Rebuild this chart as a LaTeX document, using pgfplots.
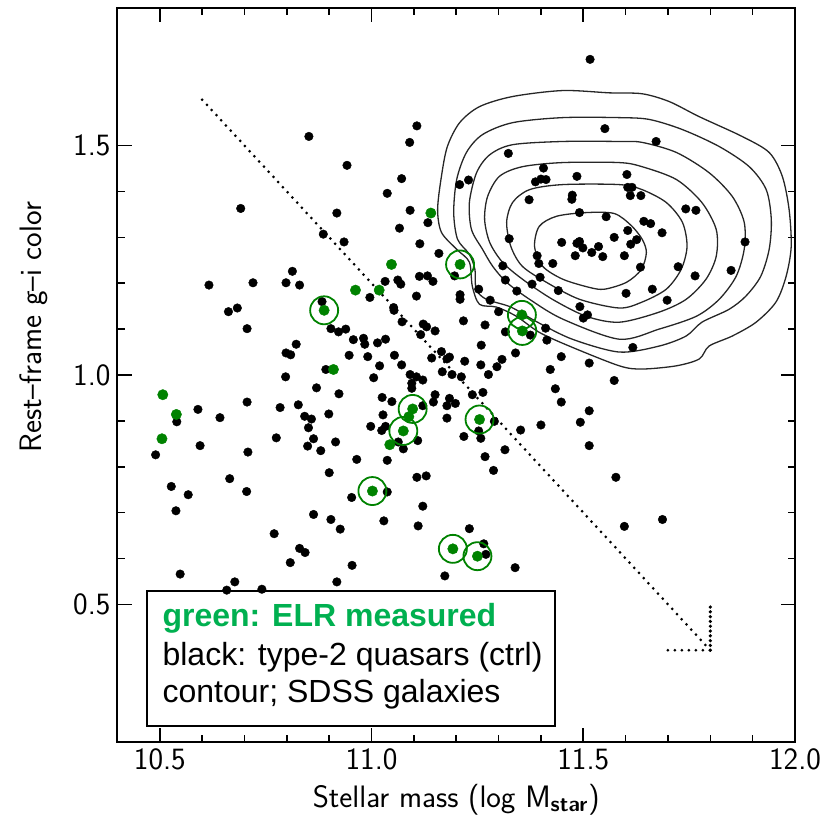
\documentclass[border=0pt]{standalone}
\usepackage{fontspec}
\usepackage{pgfplots}
\pgfplotsset{compat=1.18}
\newfontfamily\legendfont{Liberation Sans}
\definecolor{grn}{RGB}{0,130,0}
\definecolor{legendgreen}{RGB}{0,176,80}

\begin{document}
\begin{tikzpicture}
\begin{axis}[
  scale only axis,
  width=338.75pt, height=367pt,
  xmin=10.4, xmax=12.0, ymin=0.2, ymax=1.8,
  xtick={10.5,11.0,11.5,12.0}, ytick={0.5,1.0,1.5},
  minor x tick num=4, minor y tick num=4,
  tick align=inside,
  major tick length=7pt, minor tick length=3.5pt,
  every tick/.style={black, line width=0.8pt},
  axis line style={line width=1pt},
  /pgf/number format/.cd, fixed, fixed zerofill, precision=1, assume math mode=true,
  /pgfplots/.cd,
  tick label style={font=\fontsize{15.5}{18}\sffamily},
  label style={font=\fontsize{15.5}{18}\sffamily},
  xlabel={Stellar mass (log M\textsubscript{\bfseries star})},
  ylabel={Rest--frame g--i color},
  ylabel style={at={(ticklabel cs:0.565)}},
  ylabel shift=6pt,
]

% SDSS galaxy density contours
\addplot[smooth cycle, black!85, line width=0.65pt] coordinates {
(11.156,1.361) (11.165,1.433) (11.179,1.498) (11.208,1.550) (11.255,1.585)
(11.333,1.607) (11.451,1.620) (11.562,1.615) (11.639,1.613) (11.703,1.596)
(11.774,1.563) (11.875,1.520) (11.939,1.485) (11.970,1.433) (11.986,1.361)
(11.991,1.280) (11.979,1.215) (11.955,1.159) (11.908,1.115) (11.852,1.085)
(11.797,1.063) (11.774,1.035) (11.720,1.020) (11.639,1.013) (11.585,1.020)
(11.467,1.063) (11.396,1.093) (11.342,1.128) (11.295,1.148) (11.255,1.154)
(11.238,1.193) (11.231,1.246) (11.201,1.274) (11.165,1.311)};
\addplot[smooth cycle, black!85, line width=0.65pt] coordinates {
(11.585,1.561) (11.451,1.561) (11.333,1.550) (11.262,1.524) (11.224,1.485)
(11.201,1.426) (11.194,1.354) (11.203,1.296) (11.231,1.263) (11.244,1.230)
(11.247,1.187) (11.271,1.165) (11.329,1.148) (11.392,1.115) (11.474,1.078)
(11.585,1.050) (11.679,1.063) (11.743,1.085) (11.780,1.115) (11.844,1.143)
(11.884,1.172) (11.919,1.215) (11.939,1.274) (11.944,1.339) (11.932,1.404)
(11.892,1.454) (11.821,1.498) (11.734,1.535) (11.656,1.557)};
\addplot[smooth cycle, black!85, line width=0.65pt] coordinates {
(11.585,1.509) (11.451,1.509) (11.333,1.502) (11.279,1.480) (11.248,1.441)
(11.231,1.376) (11.236,1.317) (11.262,1.274) (11.286,1.237) (11.319,1.202)
(11.373,1.165) (11.451,1.122) (11.585,1.078) (11.679,1.100) (11.767,1.128)
(11.821,1.165) (11.861,1.215) (11.880,1.274) (11.880,1.333) (11.852,1.389)
(11.797,1.441) (11.720,1.485) (11.639,1.507)};
\addplot[smooth cycle, black!85, line width=0.65pt] coordinates {
(11.585,1.463) (11.451,1.463) (11.356,1.454) (11.302,1.433) (11.274,1.389)
(11.267,1.339) (11.279,1.289) (11.309,1.246) (11.356,1.209) (11.427,1.165)
(11.507,1.128) (11.585,1.115) (11.679,1.137) (11.743,1.165) (11.790,1.209)
(11.814,1.259) (11.814,1.317) (11.780,1.376) (11.720,1.426) (11.639,1.454)};
\addplot[smooth cycle, black!85, line width=0.65pt] coordinates {
(11.585,1.415) (11.451,1.415) (11.373,1.404) (11.333,1.376) (11.319,1.333)
(11.329,1.280) (11.356,1.237) (11.413,1.202) (11.491,1.165) (11.585,1.146)
(11.639,1.159) (11.696,1.187) (11.731,1.230) (11.745,1.280) (11.734,1.333)
(11.696,1.376) (11.639,1.404)};
\addplot[smooth cycle, black!85, line width=0.65pt] coordinates {
(11.573,1.352) (11.613,1.326) (11.639,1.296) (11.649,1.267) (11.637,1.230)
(11.602,1.202) (11.550,1.187) (11.514,1.191) (11.451,1.209) (11.404,1.237)
(11.385,1.280) (11.396,1.324) (11.437,1.346) (11.507,1.354)};

% dotted diagonal with its corner marker
\addplot[black, line width=1.5pt, line cap=round, dash pattern=on 0pt off 3.5pt]
  coordinates {(10.6,1.6) (11.8,0.4)};
\addplot[black, line width=1.5pt, line cap=round, dash pattern=on 0pt off 3.5pt]
  coordinates {(11.7,0.4) (11.8,0.4)};
\addplot[black, line width=1.8pt, line cap=round, dash pattern=on 0pt off 2.4pt]
  coordinates {(11.8,0.4) (11.8,0.5)};

% type-2 quasars (control sample)
\addplot[only marks, mark=*, mark size=2.15pt, mark options={draw=black, fill=black, line width=0.2pt}]
coordinates {
(11.107,1.543) (10.852,1.520) (11.090,1.507) (10.942,1.457) (11.071,1.428)
(11.037,1.396) (10.691,1.363) (10.918,1.353) (11.091,1.359) (11.133,1.332)
(11.066,1.320) (10.886,1.307) (10.935,1.290) (11.114,1.286) (11.159,1.265)
(11.516,1.688) (11.551,1.537) (11.672,1.509) (11.323,1.483) (11.208,1.415)
(11.229,1.425) (11.406,1.451) (11.387,1.421) (11.412,1.426) (11.400,1.427)
(11.485,1.433) (11.603,1.437) (11.605,1.409) (11.615,1.409) (11.611,1.391)
(11.636,1.391) (11.372,1.382) (11.474,1.392) (11.473,1.383) (11.742,1.362)
(11.766,1.359) (11.491,1.354) (11.554,1.345) (11.643,1.335) (11.659,1.330)
(11.686,1.310) (11.605,1.315) (11.325,1.297) (11.573,1.300) (11.449,1.289)
(11.491,1.291) (11.485,1.287) (11.499,1.277) (11.520,1.267) (11.536,1.280)
(11.626,1.295) (11.612,1.285) (11.882,1.290) (11.391,1.260) (11.481,1.260)
(11.546,1.258) (11.597,1.260)
(11.395,1.243) (11.428,1.243) (11.635,1.235) (11.724,1.236) (11.764,1.216)
(11.849,1.228) (11.310,1.238) (11.196,1.216) (11.316,1.207) (11.398,1.213)
(11.379,1.198) (11.253,1.187) (11.343,1.183) (11.441,1.184) (11.601,1.178)
(11.663,1.187) (11.698,1.163) (11.209,1.175) (11.209,1.165) (11.280,1.163)
(11.300,1.138) (11.492,1.149) (11.510,1.131) (11.500,1.124) (11.217,1.118)
(11.268,1.109) (11.316,1.094) (11.375,1.087) (11.411,1.102) (11.414,1.076)
(11.617,1.060) (11.259,1.065) (11.340,1.048) (11.448,1.040) (11.514,1.026)
(11.308,1.034) (11.296,1.018) (11.258,1.022) (11.220,1.030) (11.165,1.051)
(11.178,1.035) (11.184,1.039) (11.167,1.007) (11.190,1.001) (11.212,0.996)
(11.276,1.001) (11.422,1.012) (11.573,0.988) (11.434,0.970) (11.448,0.941)
(11.263,0.962) (11.238,0.957) (11.184,0.949) (11.178,0.933) (11.198,0.938)
(11.178,0.906) (11.290,0.899) (11.400,0.891) (11.493,0.897) (11.514,0.922)
(11.352,0.880) (11.253,0.878) (11.218,0.866) (11.258,0.862) (11.315,0.837)
(11.514,0.846) (11.268,0.822) (11.288,0.792) (11.577,0.777)
(10.813,1.226) (10.616,1.196) (10.720,1.201) (10.798,1.201) (10.830,1.196)
(11.032,1.204) (11.062,1.207) (11.069,1.198) (11.113,1.215) (11.132,1.216)
(11.145,1.204) (10.996,1.169) (11.106,1.172) (11.052,1.147) (11.053,1.141)
(10.883,1.160) (10.662,1.138) (10.683,1.146) (10.706,1.101) (10.904,1.101)
(10.922,1.094) (10.939,1.100) (11.072,1.116) (11.122,1.111) (11.130,1.105)
(11.150,1.096) (11.116,1.088) (10.957,1.077) (10.981,1.080) (10.984,1.067)
(11.014,1.070) (11.033,1.078) (10.822,1.067) (10.798,1.048) (10.809,1.044)
(10.947,1.043) (10.991,1.040) (11.054,1.043) (11.142,1.037) (11.019,1.020)
(11.071,1.022) (10.892,1.012) (10.797,0.996) (11.005,0.994) (11.091,1.001)
(11.106,0.996) (11.121,0.989) (11.095,0.982) (11.095,0.971) (10.870,0.972)
(10.923,0.959) (10.540,0.898) (10.490,0.826) (10.590,0.925) (10.642,0.907)
(10.706,0.941) (10.784,0.929) (10.827,0.935) (10.842,0.910) (10.858,0.904)
(10.899,0.915) (10.851,0.885) (10.863,0.861) (10.849,0.845) (10.880,0.835)
(10.915,0.854) (10.775,0.863) (10.595,0.846) (10.708,0.832) (11.025,0.951)
(11.048,0.942) (11.027,0.913) (10.998,0.888) (11.024,0.879) (11.033,0.888)
(11.063,0.854) (11.075,0.839) (11.109,0.857) (11.146,0.941) (11.150,0.957)
(11.121,0.933) (10.965,0.816) (11.037,0.814) (10.900,0.787) (10.665,0.774)
(10.527,0.757) (10.567,0.739) (10.705,0.746) (11.107,0.777) (11.129,0.780)
(11.037,0.745) (10.953,0.733)
(10.538,0.704) (11.121,0.714) (10.863,0.696) (10.904,0.685) (10.926,0.664)
(11.029,0.682) (11.110,0.671) (10.770,0.654) (10.830,0.622) (10.843,0.613)
(10.808,0.591) (10.954,0.585) (10.918,0.549) (10.548,0.566) (10.677,0.549)
(10.658,0.531) (10.741,0.533) (11.231,0.665) (11.265,0.632) (11.270,0.609)
(11.173,0.562) (11.339,0.580) (11.597,0.670) (11.687,0.685)
};

% objects with ELR measured
\addplot[only marks, mark=*, mark size=2.6pt, mark options={draw=grn, fill=grn, line width=0.2pt}]
coordinates {
(11.140,1.353) (11.047,1.241) (10.962,1.185) (11.018,1.185) (10.910,1.012)
(10.507,0.957) (10.539,0.914) (10.505,0.861) (11.088,0.909) (11.043,0.848)
(11.209,1.241) (10.888,1.141) (11.355,1.131) (11.356,1.096) (11.097,0.926)
(11.075,0.878) (11.255,0.903) (11.002,0.747) (11.192,0.621) (11.250,0.605)
};
\addplot[only marks, mark=o, mark size=7pt, mark options={draw=grn, line width=0.9pt}]
coordinates {
(11.209,1.241) (10.888,1.141) (11.355,1.131) (11.356,1.096) (11.097,0.926)
(11.075,0.878) (11.255,0.903) (11.002,0.747) (11.192,0.621) (11.250,0.605)
};

% key box
\draw[fill=white, line width=1pt] (axis cs:10.470,0.235) rectangle (axis cs:11.434,0.530);
\node[anchor=base west, inner sep=0pt, font=\legendfont\fontsize{16}{19}\selectfont\bfseries, text=legendgreen]
  at (axis cs:10.5055,0.4526) {green: ELR measured};
\node[anchor=base west, inner sep=0pt, font=\legendfont\fontsize{16}{19}\selectfont]
  at (axis cs:10.5055,0.3657) {black: type-2 quasars (ctrl)};
\node[anchor=base west, inner sep=0pt, font=\legendfont\fontsize{16}{19}\selectfont]
  at (axis cs:10.5055,0.2852) {contour; SDSS galaxies};
\end{axis}
\pgfresetboundingbox
\path ([shift={(-58.75pt,-42.5pt)}]current axis.south west)
  rectangle ([shift={(19.5pt,4pt)}]current axis.north east);
\end{tikzpicture}
\end{document}
